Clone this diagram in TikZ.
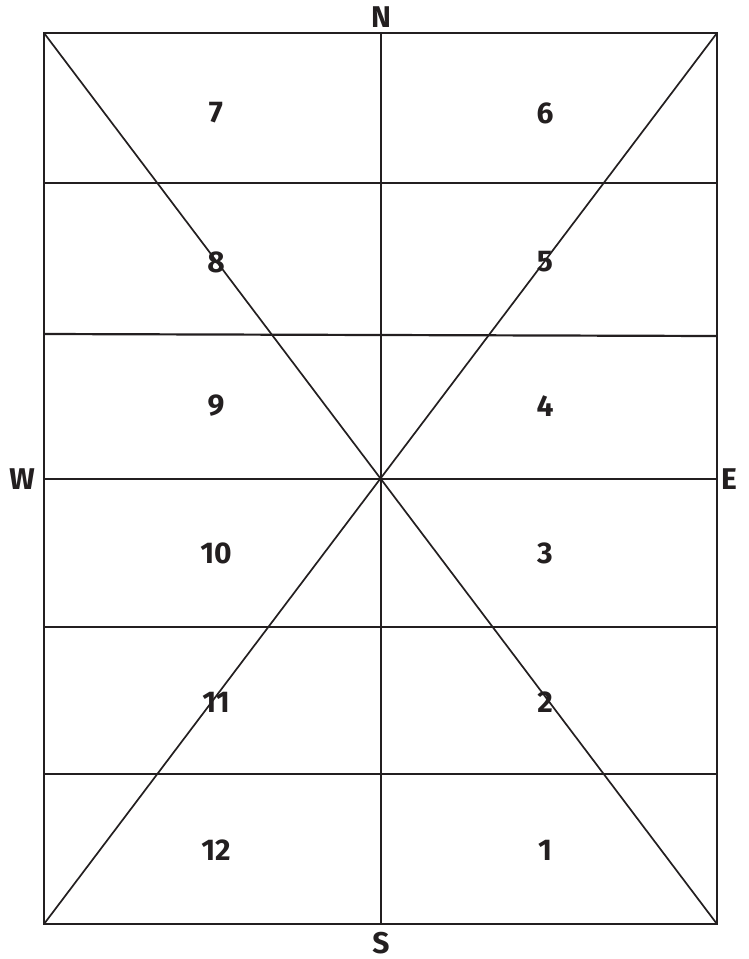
\documentclass[tikz,border=0pt]{standalone}
\usepackage{fontspec}
\setmainfont{Fira Sans}
\usetikzlibrary{positioning,calc}
\definecolor{ink}{HTML}{231F20}
\tikzset{
  frame/.style={draw=ink,line width=2.2pt,line cap=rect},
  band/.style={draw=ink,line width=2.2pt},
  diag/.style={draw=ink,line width=1.7pt},
  num/.style={font=\bfseries\fontsize{30}{30}\selectfont,text=ink,inner sep=0pt},
  dir/.style={font=\bfseries\fontsize{30}{30}\selectfont,text=ink,inner sep=0pt},
}
\begin{document}
\begin{tikzpicture}[x=1pt,y=-1pt]
\useasboundingbox (0,0) rectangle (748,959);
% corners and centre
\coordinate (nw) at (44,33);
\coordinate (ne) at (717,33);
\coordinate (sw) at (44,924);
\coordinate (se) at (717,924);
\coordinate (n) at (381,33);
\coordinate (s) at (381,924);
\coordinate (w) at (44,479);
\coordinate (e) at (717,479);
% band lines
\coordinate (l1) at (44,183);  \coordinate (r1) at (717,183);
\coordinate (l2) at (44,334);  \coordinate (r2) at (717,336);
\coordinate (l4) at (44,627);  \coordinate (r4) at (717,627);
\coordinate (l5) at (44,774);  \coordinate (r5) at (717,774);
\foreach \i in {1,2,4,5} \draw[band] (l\i) -- (r\i);
\draw[band] (w) -- (e);
\draw[band] (n) -- (s);
\draw[diag] (nw) -- (se);
\draw[diag] (ne) -- (sw);
\draw[frame] (nw) -- (ne) -- (se) -- (sw) -- cycle;
% sector numbers
\foreach \a/\b/\y in {7/6/113,8/5/262,9/4/406,10/3/553,11/2/702,12/1/850}{
  \node[num] (s\a) at (216,\y) {\a};
  \node[num] (s\b) at (545,\y) {\b};
}
% compass points
\node[dir,above=5pt of n] (lblN) {N};
\node[dir,below=8pt of s] (lblS) {S};
\node[dir,left=9pt of w] (lblW) {W};
\node[dir,right=4pt of e] (lblE) {E};
\end{tikzpicture}
\end{document}
